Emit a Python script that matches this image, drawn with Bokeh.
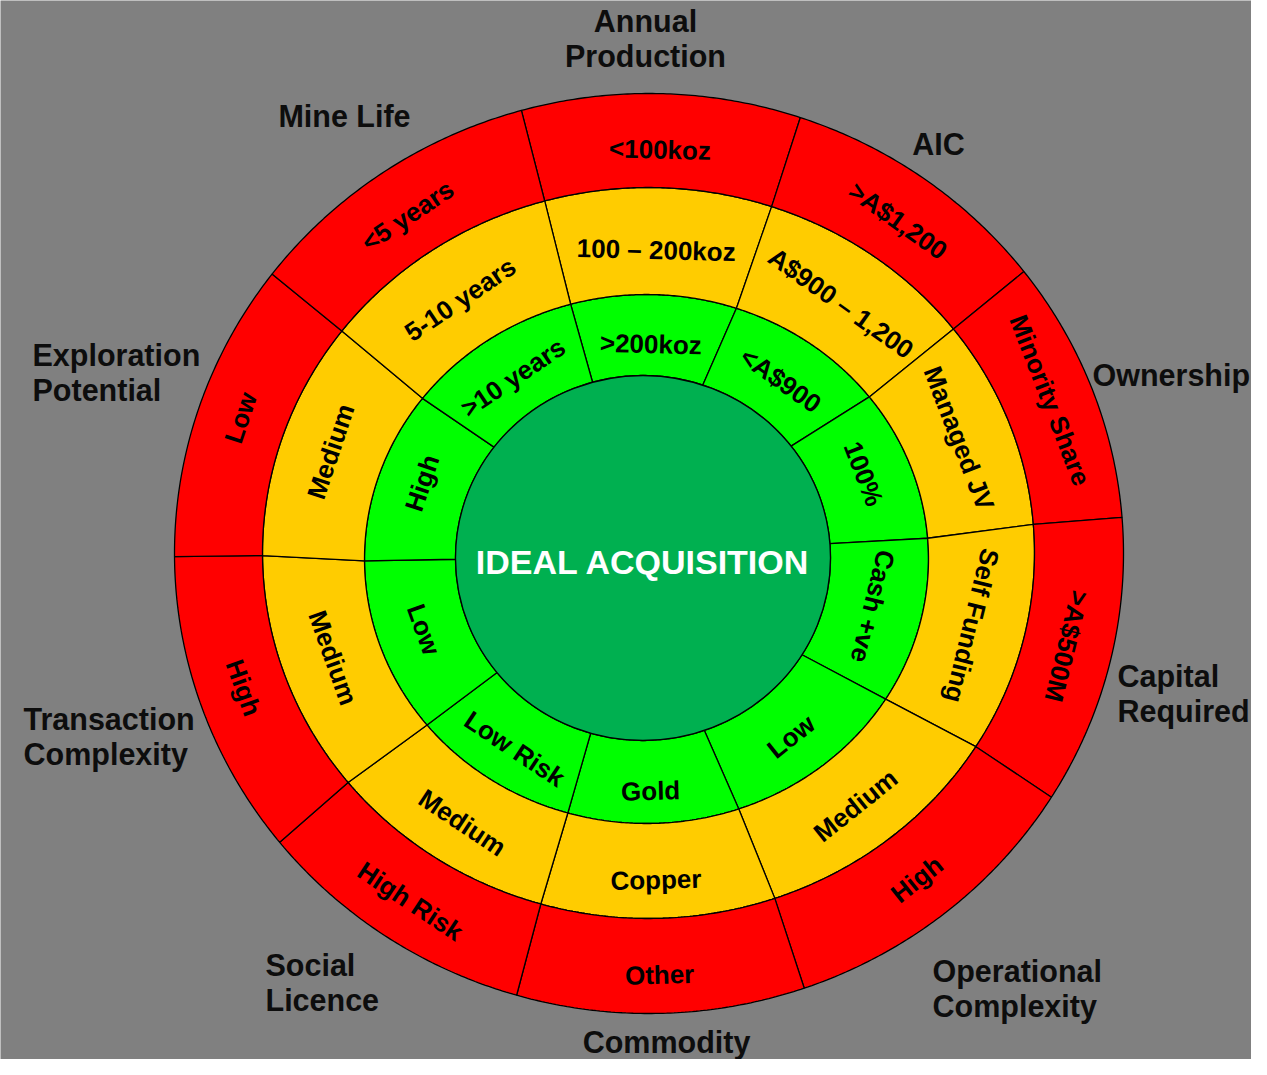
import numpy as np
from bokeh.plotting import figure
from bokeh.models import Range1d
from bokeh.core.properties import value
from bokeh.embed import file_html
from bokeh.resources import INLINE

# ---------------- data ----------------
categories = ["Annual\nProduction", "AIC", "Ownership", "Capital\nRequired",
              "Operational\nComplexity", "Commodity", "Social\nLicence",
              "Transaction\nComplexity", "Exploration\nPotential", "Mine Life"]
ideal = [">200koz", "<A$900", "100%", "Cash +ve", "Low", "Gold",
         "Low Risk", "Low", "High", ">10 years"]
acceptable = ["100 – 200koz", "A$900 – 1,200", "Managed JV", "Self Funding",
              "Medium", "Copper", "Medium", "Medium", "Medium", "5-10 years"]
poor = ["<100koz", ">A$1,200", "Minority Share", ">A$500M", "High", "Other",
        "High Risk", "High", "Low", "<5 years"]
segment_share = [34.2, 33.6, 33.3, 36.5, 38.9, 35.3, 34.9, 38.5, 37.8, 37.0]
centre_label = "IDEAL ACQUISITION"

# ---------------- layout ----------------
W, H = 1251, 1059          # plot size in px; data units = px, y up
TOP = 1075                 # rows measured from top of the 1075-tall canvas
START_DEG = 105.6          # left edge of first segment; segments run clockwise
# boundary ellipses (px, y measured from top): cx, cy, rx, ry
ELL = [(642.5, 557.5, 187.5, 182.5),
       (646.0, 558.5, 282.0, 264.5),
       (648.0, 552.5, 386.0, 365.5),
       (648.5, 553.0, 474.5, 460.0)]
RING_COLORS = ["#00FF00", "#FFCC00", "#FF0000"]
CENTRE_COLOR = "#00B050"
BG = "#808080"
CENTRE_TEXT_DY = 4
FONT = value("Liberation Sans")

# outer label anchors (px from top-left) and alignment
outer_pos = [(645, 38, "center"), (938, 143, "center"), (1092, 374, "left"),
             (1117, 693, "left"), (932, 988, "left"), (666, 1041, "center"),
             (265, 982, "left"), (23, 736, "left"), (32, 372, "left"),
             (344, 115, "center")]


def ell_pt(e, deg):
    cx, cy, rx, ry = e
    t = np.radians(deg)
    return cx + rx * np.cos(t), (TOP - cy) + ry * np.sin(t)


p = figure(width=W, height=H, x_range=Range1d(0, W),
           y_range=Range1d(TOP - H, TOP), output_backend="svg",
           toolbar_location=None, min_border=0, x_axis_type=None,
           y_axis_type=None, background_fill_color=BG,
           border_fill_color=BG, outline_line_color=None)
p.grid.visible = False

edges = START_DEG - np.concatenate([[0], np.cumsum(segment_share)])
mids = (edges[:-1] + edges[1:]) / 2

xs, ys, cols = [], [], []
for k in range(3):
    for i in range(len(categories)):
        th = np.linspace(edges[i], edges[i + 1], 80)
        ox, oy = ell_pt(ELL[k + 1], th)
        ix, iy = ell_pt(ELL[k], th[::-1])
        xs.append(list(np.concatenate([ox, ix])))
        ys.append(list(np.concatenate([oy, iy])))
        cols.append(RING_COLORS[k])
p.patches(xs=xs, ys=ys, fill_color=cols, line_color="black", line_width=1.3)

# centre disc
cx0, cy0, rx0, ry0 = ELL[0]
p.ellipse(x=[cx0], y=[TOP - cy0], width=[2 * rx0], height=[2 * ry0],
          fill_color=CENTRE_COLOR, line_color="black", line_width=1.3)
p.text(x=[cx0], y=[TOP - cy0 - CENTRE_TEXT_DY], text=[centre_label],
       text_color="white", text_font=FONT, text_font_style="bold",
       text_font_size="34px", text_align="center", text_baseline="middle")


def upright(deg):
    a = (deg + 180) % 360 - 180
    if a > 90:
        a -= 180
    elif a < -110:
        a += 180
    return a


lx, ly, lt, la = [], [], [], []
for k, labels in enumerate([ideal, acceptable, poor]):
    for i, lab in enumerate(labels):
        m = mids[i]
        x1, y1 = ell_pt(ELL[k], m)
        x2, y2 = ell_pt(ELL[k + 1], m)
        s2 = np.sin(np.radians(m)) ** 2
        dy = 9 * s2 - 6 * (1 - s2)
        lx.append((x1 + x2) / 2)
        ly.append((y1 + y2) / 2 - dy)
        lt.append(lab)
        la.append(np.radians(upright(m - 90)))
p.text(x=lx, y=ly, text=lt, angle=la, text_color="black", text_font=FONT,
       text_font_style="bold", text_font_size="26px", text_align="center",
       text_baseline="middle")

for lab, (x, y, al) in zip(categories, outer_pos):
    p.text(x=[x], y=[TOP - y], text=[lab], text_color="#0D0D0D", text_font=FONT,
           text_font_style="bold", text_font_size="30.5px", text_align=al,
           text_baseline="middle", text_line_height=1.04)

open("out.html", "w").write(file_html(p, INLINE))
